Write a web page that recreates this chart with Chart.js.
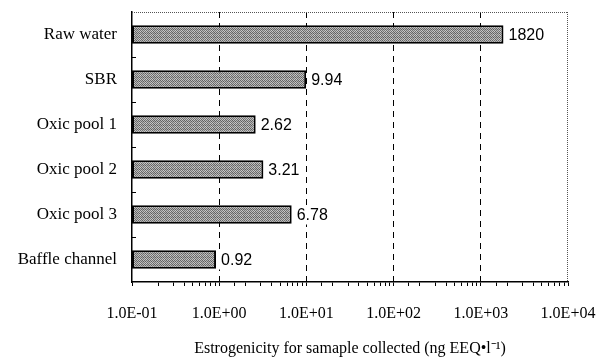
<!DOCTYPE html>
<html>
<head>
<meta charset="utf-8">
<script src="https://cdn.jsdelivr.net/npm/chart.js@4"></script>
<style>
  html, body { margin: 0; padding: 0; background: #fff; }
  #wrap { width: 601px; height: 358px; }
</style>
</head>
<body>
<div id="wrap"><canvas id="grafik" width="601" height="358"></canvas></div>
<script>
// data
const sampel = ['Raw water', 'SBR', 'Oxic pool 1', 'Oxic pool 2', 'Oxic pool 3', 'Baffle channel'];
const nilai = [1820, 9.94, 2.62, 3.21, 6.78, 0.92];
const dekade = [0.1, 1, 10, 100, 1000, 10000];
const labelDekade = ['1.0E-01', '1.0E+00', '1.0E+01', '1.0E+02', '1.0E+03', '1.0E+04'];

// pola abu-abu untuk isi batang
function buatPola() {
    const c = document.createElement('canvas');
    c.width = 6; c.height = 4;
    const g = c.getContext('2d');
    const warna = [
        ['#666666', '#bbbbbb', '#727272', '#b2b2b2', '#626262', '#c0c0c0'],
        ['#b4b4b4', '#5c5c5c', '#b8b8b8', '#686868', '#aaaaaa', '#606060'],
        ['#7a7a7a', '#cacaca', '#6c6c6c', '#c0c0c0', '#767676', '#b6b6b6'],
        ['#c4c4c4', '#6e6e6e', '#cecece', '#646464', '#bcbcbc', '#747474']
    ];
    for (let y = 0; y < 4; y++) {
        for (let x = 0; x < 6; x++) {
            g.fillStyle = warna[y][x];
            g.fillRect(x, y, 1, 1);
        }
    }
    return g.createPattern(c, 'repeat');
}

function isDekade(v) {
    const l = Math.log10(v);
    return Math.abs(l - Math.round(l)) < 1e-9;
}

// plugin: label nilai, tick kecil di sumbu y, garis tepi atas/kanan
const hiasan = {
    id: 'hiasan',
    afterDatasetsDraw(chart) {
        const ctx = chart.ctx;
        const meta = chart.getDatasetMeta(0);
        ctx.save();
        ctx.font = '16px "Liberation Sans", Arial, sans-serif';
        ctx.textAlign = 'left';
        ctx.textBaseline = 'middle';
        meta.data.forEach((bar, i) => {
            const teks = String(nilai[i]);
            const w = ctx.measureText(teks).width;
            // latar putih menutup garis putus-putus di belakang label
            ctx.fillStyle = '#fff';
            ctx.fillRect(bar.x + 2, bar.y - 9, w + 5, 19);
            ctx.fillStyle = '#000';
            ctx.fillText(teks, bar.x + 5, bar.y + 1);
        });
        ctx.restore();
    },
    afterDraw(chart) {
        const ctx = chart.ctx;
        const a = chart.chartArea;
        const sy = chart.scales.y;
        ctx.save();
        ctx.strokeStyle = '#000';
        ctx.lineWidth = 1;
        for (let i = 0; i < sampel.length - 1; i++) {
            const y = Math.round((sy.getPixelForValue(i) + sy.getPixelForValue(i + 1)) / 2) + 0.5;
            ctx.beginPath();
            ctx.moveTo(a.left, y);
            ctx.lineTo(a.left + 4, y);
            ctx.stroke();
        }
        ctx.strokeStyle = '#555';
        ctx.setLineDash([1, 1]);
        ctx.beginPath();
        ctx.moveTo(a.left, a.top + 0.5);
        ctx.lineTo(a.right, a.top + 0.5);
        ctx.moveTo(a.right - 0.5, a.top);
        ctx.lineTo(a.right - 0.5, a.bottom);
        ctx.stroke();
        ctx.restore();
    }
};

const ctx = document.getElementById('grafik').getContext('2d');
window.chart = new Chart(ctx, {
    type: 'bar',
    data: {
        labels: sampel,
        datasets: [{
            data: nilai,
            backgroundColor: buatPola(),
            borderColor: '#000',
            borderWidth: 2,
            borderSkipped: false,
            barPercentage: 0.41,
            categoryPercentage: 1
        }]
    },
    options: {
        indexAxis: 'y',
        responsive: false,
        animation: false,
        layout: { padding: { left: 0, right: 33, top: 12, bottom: 0 } },
        plugins: {
            legend: { display: false },
            tooltip: { enabled: false }
        },
        scales: {
            x: {
                type: 'logarithmic',
                min: 0.1,
                max: 10000,
                afterFit(scale) {
                    scale.height = 76;
                    scale.paddingLeft = 0;
                    scale.paddingRight = 0;
                },
                border: { color: '#000', width: 1.5, dash: [6, 5] },
                grid: {
                    color: (c) => (c.tick && isDekade(c.tick.value) && c.tick.value > 0.1 && c.tick.value < 10000) ? '#000' : 'rgba(0,0,0,0)',
                    lineWidth: 1,
                    tickColor: '#000',
                    tickLength: 4,
                    drawTicks: true
                },
                ticks: {
                    autoSkip: false,
                    maxRotation: 0,
                    padding: 18,
                    color: '#000',
                    font: { family: '"Liberation Serif", "Times New Roman", serif', size: 16 },
                    callback: function (v) {
                        const i = dekade.findIndex(d => Math.abs(d - v) < d * 1e-6);
                        return i >= 0 ? labelDekade[i] : '';
                    }
                },
                title: {
                    display: true,
                    text: 'Estrogenicity for samaple collected (ng EEQ\u2022l\u207B\u00B9)',
                    color: '#000',
                    padding: { top: 6, bottom: 0 },
                    font: { family: '"Liberation Serif", "Times New Roman", serif', size: 16 }
                }
            },
            y: {
                afterFit(scale) {
                    scale.width = 132;
                    scale.paddingTop = 0;
                    scale.paddingBottom = 0;
                },
                border: { color: '#000', width: 1.5 },
                grid: { display: false, drawTicks: false },
                ticks: {
                    padding: 15,
                    color: '#000',
                    font: { family: '"Liberation Serif", "Times New Roman", serif', size: 17 }
                }
            }
        }
    },
    plugins: [hiasan]
});
</script>
</body>
</html>
